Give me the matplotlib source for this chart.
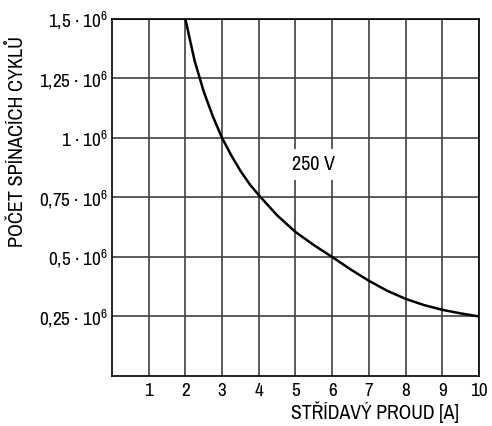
import matplotlib
matplotlib.use("Agg")
import matplotlib.pyplot as plt

FONT = "Archivo Narrow"
plt.rcParams["font.family"] = [FONT, "Liberation Sans", "DejaVu Sans"]
plt.rcParams["mathtext.fontset"] = "custom"
plt.rcParams["mathtext.rm"] = FONT
plt.rcParams["mathtext.it"] = FONT
plt.rcParams["mathtext.bf"] = FONT

# Data
current_a = [2, 2.25, 2.5, 2.75, 3, 3.25, 3.5, 3.75, 4, 4.5, 5, 5.5, 6, 6.5,
             7, 7.5, 8, 8.5, 9, 9.5, 10]
cycles = [1.5e6, 1.325e6, 1.195e6, 1.09e6, 1.0e6, 0.927e6, 0.862e6, 0.806e6,
          0.76e6, 0.675e6, 0.605e6, 0.55e6, 0.5e6, 0.448e6, 0.40e6, 0.358e6,
          0.324e6, 0.298e6, 0.278e6, 0.263e6, 0.25e6]
x_ticks = [1, 2, 3, 4, 5, 6, 7, 8, 9, 10]
y_ticks = [0.25e6, 0.5e6, 0.75e6, 1.0e6, 1.25e6, 1.5e6]
y_tick_labels = [r"0,25 · 10$^{6}$", r"0,5 · 10$^{6}$", r"0,75 · 10$^{6}$",
                 r"1 · 10$^{6}$", r"1,25 · 10$^{6}$", r"1,5 · 10$^{6}$"]
curve_label = "250 V"
x_label = "STŘÍDAVÝ PROUD [A]"
y_label = "POČET SPÍNACÍCH CYKLŮ"

fig = plt.figure(figsize=(4.92, 4.26), dpi=100)
ax = fig.add_axes([0.2276, 0.1174, 0.746, 0.838])
ax.set_xlim(0, 10)
ax.set_ylim(0, 1.5e6)
ax.set_xticks(x_ticks)
ax.set_xticklabels([str(t) for t in x_ticks])
ax.set_yticks(y_ticks)
ax.set_yticklabels(y_tick_labels)
ax.tick_params(length=0, labelsize=13.8, pad=3)
ax.tick_params(axis="x", labelsize=13.8, pad=5)
ax.grid(True, color="#404040", lw=1.2, zorder=1)
ax.set_axisbelow(True)
for s in ax.spines.values():
    s.set_color("black")
    s.set_linewidth(1.2)

ax.plot(current_a, cycles, color="black", lw=1.8, zorder=3, solid_joinstyle="round")
ax.text(5.5, 0.887e6, curve_label, ha="center", va="center", fontsize=14.5,
        bbox=dict(facecolor="white", edgecolor="none", boxstyle="square,pad=0.3"), zorder=4)

fig.text(375 / 492, 1 - 412 / 426, x_label, ha="center", va="center", fontsize=14.2)
fig.text(18 / 492, 1 - 141.5 / 426, y_label, ha="center", va="center", rotation=90, fontsize=14.5)

fig.savefig("out.png", dpi=100)
